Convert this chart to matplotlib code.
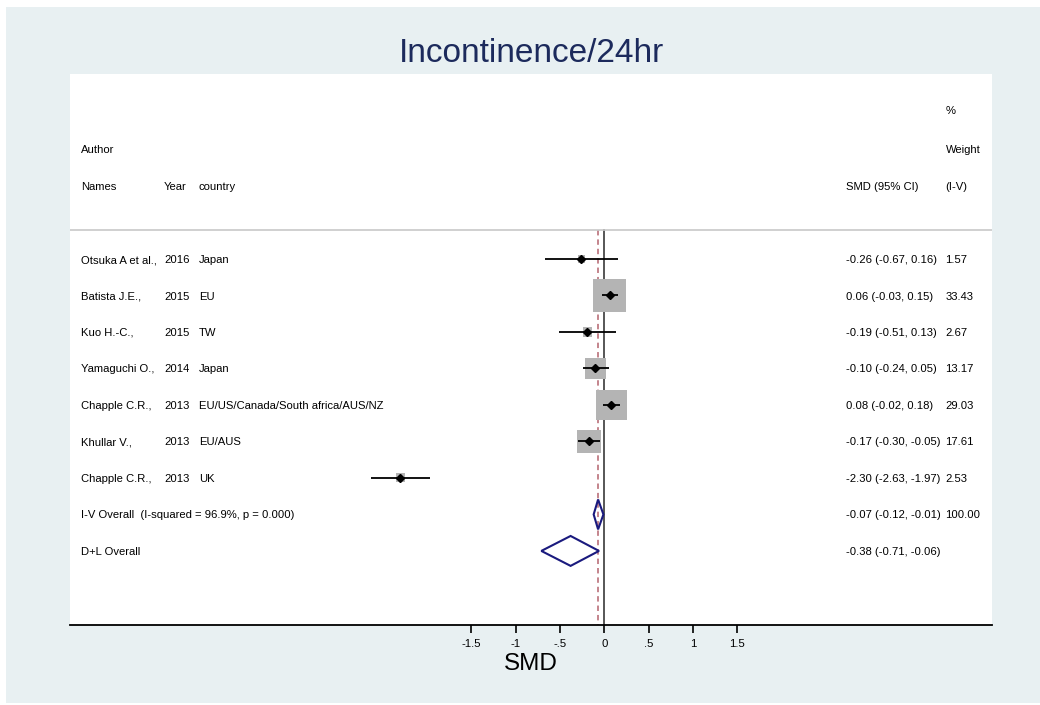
import matplotlib
matplotlib.use("Agg")
import matplotlib.pyplot as plt
from matplotlib.patches import Rectangle, Polygon
import matplotlib.transforms as mtransforms
import numpy as np

plt.rcParams["font.family"] = ["Liberation Sans", "DejaVu Sans"]

authors = ["Otsuka A et al.,", "Batista J.E.,", "Kuo H.-C.,", "Yamaguchi O.,",
           "Chapple C.R.,", "Khullar V.,", "Chapple C.R.,"]
years = ["2016", "2015", "2015", "2014", "2013", "2013", "2013"]
countries = ["Japan", "EU", "TW", "Japan", "EU/US/Canada/South africa/AUS/NZ",
             "EU/AUS", "UK"]
smd = [-0.26, 0.06, -0.19, -0.10, 0.08, -0.17, -2.30]
ci_low = [-0.67, -0.03, -0.51, -0.24, -0.02, -0.30, -2.63]
ci_high = [0.16, 0.15, 0.13, 0.05, 0.18, -0.05, -1.97]
weights = [1.57, 33.43, 2.67, 13.17, 29.03, 17.61, 2.53]

pooled_labels = ["I-V Overall  (I-squared = 96.9%, p = 0.000)", "D+L Overall"]
pooled_smd = [-0.07, -0.38]
pooled_low = [-0.12, -0.71]
pooled_high = [-0.01, -0.06]
pooled_weight = ["100.00", ""]

xticks = [-1.5, -1, -0.5, 0, 0.5, 1, 1.5]
xticklabels = ["-1.5", "-1", "-.5", "0", ".5", "1", "1.5"]

W, H = 1040, 705
fig = plt.figure(figsize=(W / 100, H / 100), dpi=100)
fig.patch.set_facecolor("white")
# light outer panel behind the plot region
bg = Rectangle((6 / W, 2 / H), 1 - 6 / W, 1 - 9 / H, transform=fig.transFigure,
               facecolor="#E8F0F2", edgecolor="none", zorder=-10)
fig.add_artist(bg)

ax = fig.add_axes([70 / W, (H - 625) / H, 922 / W, 551 / H])
ax.set_facecolor("white")
ax.set_xlim(-6.024, 4.371)
ax.set_ylim(10.03, -5.07)

for s in ["top", "left", "right"]:
    ax.spines[s].set_visible(False)
ax.spines["bottom"].set_linewidth(1.3)
ax.set_yticks([])
ax.set_xticks(xticks)
ax.set_xticklabels(xticklabels, fontsize=8.2)
ax.tick_params(axis="x", length=5.8, width=1.2, pad=4)

tr = mtransforms.blended_transform_factory(ax.transAxes, ax.transData)
fs = 8.1
base = 0.11  # baseline sits a little below the row centre
kw = dict(transform=tr, fontsize=fs, va="baseline")

# header block
ax.text(0.9496, -4.08 + base, "%", **kw)
ax.text(0.0119, -3.01 + base, "Author", **kw)
ax.text(0.9496, -3.01 + base, "Weight", **kw)
ax.text(0.0119, -2.0 + base, "Names", **kw)
ax.text(0.102, -2.0 + base, "Year", **kw)
ax.text(0.1399, -2.0 + base, "country", **kw)
ax.text(0.8413, -2.0 + base, "SMD (95% CI)", **kw)
ax.text(0.9496, -2.0 + base, "(I-V)", **kw)
ax.plot([0, 1], [-0.79, -0.79], transform=tr, color="#C8C8C8", lw=1.2)

# reference lines
ax.plot([0, 0], [-0.79, 10.03], color="#3A3A3A", lw=1.2, zorder=1)
ax.plot([pooled_smd[0], pooled_smd[0]], [-0.79, 10.03], color="#BF7B83",
        lw=1.3, ls=(0, (3, 2.2)), zorder=1)

rows = np.arange(len(smd))
sizes = (4.1 * np.sqrt(weights)) ** 2
ax.scatter(smd, rows, s=sizes, marker="s", color="#B4B4B4", linewidths=0, zorder=2)
ax.hlines(rows, ci_low, ci_high, color="black", lw=1.3, zorder=3)
ax.plot(smd, rows, "D", color="black", ms=4.2, zorder=4)

for i in rows:
    y = i + base
    ax.text(0.0119, y, authors[i], **kw)
    ax.text(0.102, y, years[i], **kw)
    ax.text(0.1399, y, countries[i], **kw)
    ax.text(0.8413, y, f"{smd[i]:.2f} ({ci_low[i]:.2f}, {ci_high[i]:.2f})", **kw)
    ax.text(0.9496, y, f"{weights[i]:.2f}", **kw)

# pooled estimates as diamonds
for j in range(len(pooled_smd)):
    y = len(smd) + j
    h = 0.41
    pts = [(pooled_low[j], y), (pooled_smd[j], y - h),
           (pooled_high[j], y), (pooled_smd[j], y + h)]
    ax.add_patch(Polygon(pts, closed=True, fill=False, edgecolor="#1A1A7E",
                         lw=1.5, zorder=3))
    ax.text(0.0119, y + base, pooled_labels[j], **kw)
    ax.text(0.8413, y + base,
            f"{pooled_smd[j]:.2f} ({pooled_low[j]:.2f}, {pooled_high[j]:.2f})", **kw)
    ax.text(0.9496, y + base, pooled_weight[j], **kw)

fig.text(532 / W, 1 - 53 / H, "Incontinence/24hr", fontsize=24, color="#1C2A5C",
         ha="center", va="center")
fig.text(531 / W, 1 - 664 / H, "SMD", fontsize=17.5, ha="center", va="center")

plt.savefig("out.png", dpi=100)
plt.close()
